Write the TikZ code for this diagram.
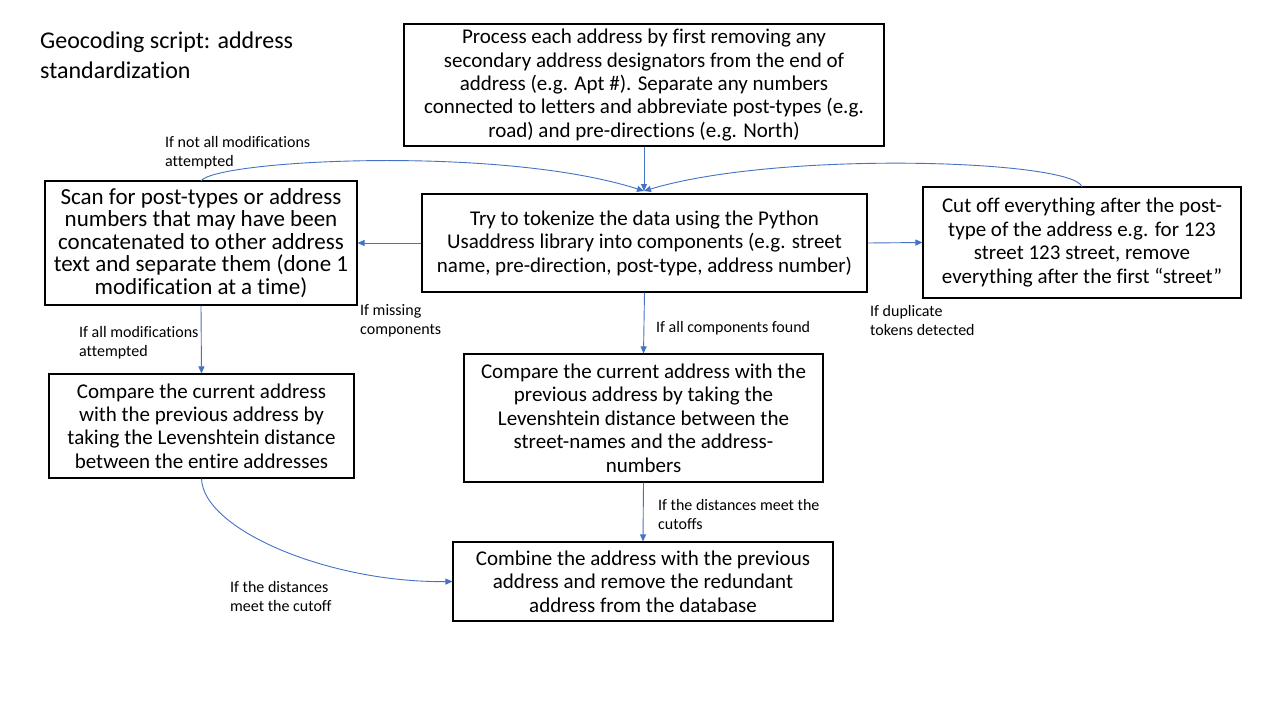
\documentclass[tikz,border=0pt]{standalone}
\usepackage{fontspec}
\setmainfont[Ligatures=CommonOff]{Carlito}
\usetikzlibrary{arrows.meta}
\definecolor{arrowblue}{RGB}{68,114,196}
\begin{document}
\begin{tikzpicture}[x=1pt,y=-1pt,
  box/.style={draw=black,line width=1.1pt,inner sep=0pt,align=center},
  bigtext/.style={font=\fontsize{21}{23.4}\selectfont},
  lefttext/.style={font=\fontsize{23}{22.4}\selectfont},
  lbl/.style={font=\fontsize{16}{19}\selectfont,align=left,anchor=west,inner sep=0pt},
  conn/.style={draw=arrowblue,line width=0.9pt,-{Triangle[length=7pt,width=6pt]}}
]
\useasboundingbox[fill=white] (0,0) rectangle (1280,720);

\node[anchor=west,inner sep=0pt,align=left,font=\fontsize{24}{30}\selectfont] (title) at (40,55) {Geocoding script: address\\standardization};

\node[box,bigtext,minimum width=480pt,minimum height=122pt] (top) at (644,85)
 {Process each address by first removing any\\secondary address designators from the end of\\address (e.g. Apt \#). Separate any numbers\\connected to letters and abbreviate post-types (e.g.\\road) and pre-directions (e.g. North)};

\node[box,lefttext,minimum width=312pt,minimum height=124pt] (scan) at (201,243)
 {Scan for post-types or address\\numbers that may have been\\concatenated to other address\\text and separate them (done 1\\modification at a time)};

\node[box,bigtext,minimum width=445pt,minimum height=98pt] (tok) at (644.5,243)
 {Try to tokenize the data using the Python\\Usaddress library into components (e.g. street\\name, pre-direction, post-type, address number)};

\node[box,bigtext,minimum width=318pt,minimum height=111pt] (cut) at (1082,242.5)
 {Cut off everything after the post-\\type of the address e.g. for 123\\street 123 street, remove\\everything after the first “street”};

\node[box,bigtext,minimum width=305pt,minimum height=104pt] (cmpall) at (201.5,426)
 {Compare the current address\\with the previous address by\\taking the Levenshtein distance\\between the entire addresses};

\node[box,bigtext,minimum width=359pt,minimum height=128pt] (cmpstreet) at (643.5,418)
 {Compare the current address with the\\previous address by taking the\\Levenshtein distance between the\\street-names and the address-\\numbers};

\node[box,bigtext,minimum width=380pt,minimum height=79pt] (comb) at (643,581.5)
 {Combine the address with the previous\\address and remove the redundant\\address from the database};

\coordinate (J) at (644,191);
\coordinate (scantop) at (201,181);
\coordinate (cuttop) at (1082,187);

\draw[conn] (top.south) -- (J);
\draw[conn] (scantop) .. controls (215,160) and (500,145) .. (J);
\draw[conn] (cuttop) .. controls (1075,160) and (780,150) .. (J);
\draw[conn] (tok.west) -- (scan.east);
\draw[conn] (tok.east) -- (cut.west);
\draw[conn] (scan.south) -- (cmpall.north);
\draw[conn] (tok.south) -- (cmpstreet.north);
\draw[conn] (cmpstreet.south) -- (comb.north);
\draw[conn] (cmpall.south) .. controls (203,530) and (330,583) .. (comb.west);

\node[lbl] (l1) at (165,152.5) {If not all modifications\\attempted};
\node[lbl] (l2) at (360,321) {If missing\\components};
\node[lbl] (l3) at (870,320.5) {If duplicate\\tokens detected};
\node[lbl] (l4) at (79,342.5) {If all modifications\\attempted};
\node[lbl] (l5) at (656,328) {If all components found};
\node[lbl] (l6) at (658,514) {If the distances meet the\\cutoffs};
\node[lbl] (l7) at (230,596.5) {If the distances\\meet the cutoff};
\end{tikzpicture}
\end{document}
